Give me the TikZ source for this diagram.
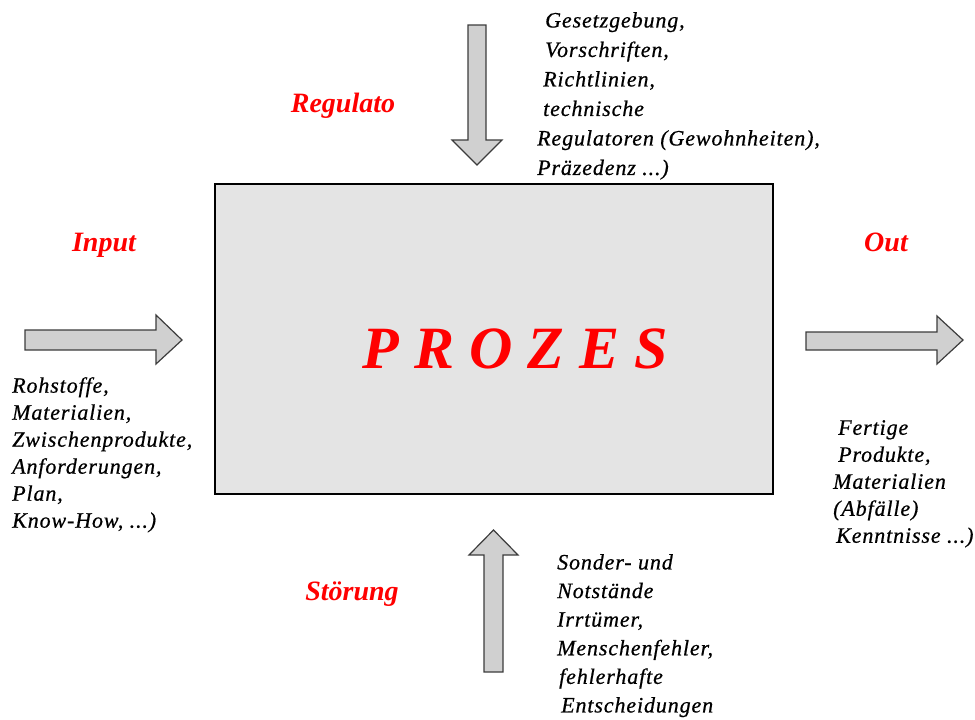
\documentclass[tikz,border=0pt]{standalone}
\usepackage{fontspec}
\setmainfont{Liberation Serif}
\newfontfamily\txtfont[LetterSpace=4,FakeBold=0.6]{Liberation Serif}
\newfontfamily\prozfont[LetterSpace=25]{Liberation Serif}
\definecolor{boxgray}{HTML}{E4E4E4}
\definecolor{arrowgray}{HTML}{D0D0D0}
\definecolor{edgegray}{HTML}{3C3C3C}
\begin{document}
\begin{tikzpicture}[x=1pt,y=-1pt,
  redlabel/.style={text=red,inner sep=0pt,anchor=base,font=\fontsize{28}{32}\selectfont\bfseries\itshape},
  txtblock/.style={inner sep=0pt,anchor=north west,align=left,font=\txtfont\fontsize{22}{27}\selectfont\itshape},
  bigarrow/.style={fill=arrowgray,draw=edgegray,line width=1.2pt,line join=miter}]
\useasboundingbox (0,0) rectangle (975,720);
% central process box
\node (box) [draw=black,line width=1.5pt,fill=boxgray,minimum width=558pt,minimum height=310pt,inner sep=0pt] at (494,339) {};
\node (proz) [text=red,inner sep=0pt,anchor=base,font=\prozfont\fontsize{60}{66}\selectfont\bfseries\itshape] at (515,368) {PROZES};
% arrows
\draw[bigarrow] (468,25) -- (486,25) -- (486,140) -- (502,140) -- (477,165) -- (452,140) -- (468,140) -- cycle;
\draw[bigarrow] (25,330) -- (156,330) -- (156,315) -- (182,340) -- (156,364) -- (156,350) -- (25,350) -- cycle;
\draw[bigarrow] (806,332) -- (937,332) -- (937,316) -- (963,340) -- (937,364) -- (937,350) -- (806,350) -- cycle;
\draw[bigarrow] (484,672) -- (484,555) -- (469,555) -- (493.5,530) -- (518,555) -- (503,555) -- (503,672) -- cycle;
% red labels
\node (reg) [redlabel] at (343,112) {Regulato};
\node (inp) [redlabel] at (104,251) {Input};
\node (out) [redlabel] at (886,251) {Out};
\node (stor) [redlabel] at (352,600) {Störung};
% text blocks
\node (toptxt) [txtblock,font=\txtfont\fontsize{22}{29.5}\selectfont\itshape] at (537,12) {\hspace*{8pt}Gesetzgebung,\\\hspace*{8pt}Vorschriften,\\\hspace*{6pt}Richtlinien,\\\hspace*{6pt}technische\\Regulatoren (Gewohnheiten),\\Präzedenz ...)};
\node (lefttxt) [txtblock] at (12,377) {Rohstoffe,\\Materialien,\\Zwischenprodukte,\\Anforderungen,\\Plan,\\Know-How, ...)};
\node (righttxt) [txtblock] at (833,420) {\hspace*{5pt}Fertige\\\hspace*{5pt}Produkte,\\Materialien\\(Abfälle)\\\hspace*{3pt}Kenntnisse ...)};
\node (bottxt) [txtblock,font=\txtfont\fontsize{22}{28.6}\selectfont\itshape] at (557,554) {Sonder- und\\Notstände\\Irrtümer,\\Menschenfehler,\\\hspace*{2pt}fehlerhafte\\\hspace*{4pt}Entscheidungen};
\end{tikzpicture}
\end{document}
